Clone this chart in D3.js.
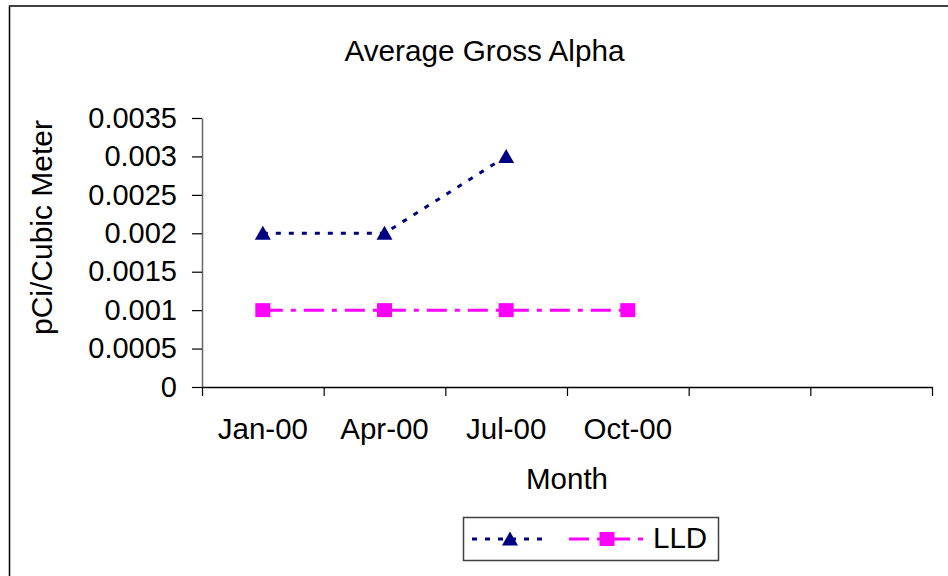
<!DOCTYPE html>
<html><head><meta charset="utf-8">
<script src="https://cdn.jsdelivr.net/npm/d3@7"></script>
<style>
html,body{margin:0;padding:0;background:#fff;}
svg{display:block;}
text{font-family:"Liberation Sans",Arial,sans-serif;fill:#000;}
</style></head>
<body>
<svg id="c" width="948" height="576"></svg>
<script>
// ---- data ----
const categories = ["Jan-00","Apr-00","Jul-00","Oct-00","",""];
const seriesAlpha = [0.002, 0.002, 0.003];          // unnamed series (navy triangles)
const seriesLLD = [0.001, 0.001, 0.001, 0.001];     // LLD (magenta squares)
const yTicks = [0,0.0005,0.001,0.0015,0.002,0.0025,0.003,0.0035];
const chartTitle = "Average Gross Alpha";
const yTitle = "pCi/Cubic Meter";
const xTitle = "Month";
const legendNames = ["", "LLD"];

const svg = d3.select("#c");
const FS = 29;

// chart border (extends beyond the frame right/bottom)
svg.append("rect").attr("x",9.5).attr("y",6).attr("width",960).attr("height",600)
  .attr("fill","none").attr("stroke","#000").attr("stroke-width",1.5);
svg.append("line").attr("x1",9).attr("x2",948).attr("y1",6).attr("y2",6)
  .attr("stroke","#404040").attr("stroke-width",2);

const plot = {l:202, r:932, t:118, b:387};
const x = d3.scaleBand().domain(d3.range(categories.length)).range([plot.l, plot.r]).padding(0);
const y = d3.scaleLinear().domain([0,0.0035]).range([plot.b, plot.t]);
const cx = i => x(i) + x.bandwidth()/2;

// y axis
const yAxis = d3.axisLeft(y).tickValues(yTicks).tickFormat(d => d===0 ? "0" : d3.format("")(+d.toFixed(4)))
  .tickSize(10).tickPadding(15).tickSizeOuter(0);
const gy = svg.append("g").attr("transform",`translate(${plot.l},0)`).call(yAxis);
gy.select(".domain").attr("stroke","#666").attr("stroke-width",1.5);
gy.selectAll(".tick line").attr("stroke","#000").attr("stroke-width",1.2);
gy.selectAll("text").attr("font-size",FS).attr("font-family","Liberation Sans, Arial, sans-serif").attr("fill","#000");

// x axis boundary ticks
const xb = d3.scaleLinear().domain([0,categories.length]).range([plot.l, plot.r]);
const gxb = svg.append("g").attr("transform",`translate(0,${plot.b})`)
  .call(d3.axisBottom(xb).ticks(categories.length).tickFormat("").tickSize(9).tickSizeOuter(0));
gxb.select(".domain").attr("stroke","#000").attr("stroke-width",1.5);
gxb.selectAll(".tick line").attr("stroke","#000").attr("stroke-width",1.2);
// x labels at category centres
const gx = svg.append("g").attr("transform",`translate(0,${plot.b})`)
  .call(d3.axisBottom(x).tickFormat(i => categories[i]).tickSize(0).tickPadding(31));
gx.select(".domain").remove();
gx.selectAll("text").attr("font-size",29.5).attr("font-family","Liberation Sans, Arial, sans-serif").attr("fill","#000");

// titles
svg.append("text").attr("x",484.5).attr("y",61).attr("text-anchor","middle").attr("font-size",29.7).text(chartTitle);
svg.append("text").attr("x",567).attr("y",489).attr("text-anchor","middle").attr("font-size",29.5).text(xTitle);
svg.append("text").attr("transform","translate(52,227.5) rotate(-90)").attr("text-anchor","middle").attr("font-size",30).text(yTitle);

// marker shapes
const tri = (px,py) => `M${px},${py-7.5}L${px+8},${py+6.5}L${px-8},${py+6.5}Z`;
const NAVY = "#000080", MAG = "#FF00FF";

// LLD series
const line = d3.line().x((d,i)=>cx(i)).y(d=>y(d));
svg.append("path").datum(seriesLLD).attr("d",line).attr("fill","none")
  .attr("stroke",MAG).attr("stroke-width",3).attr("stroke-dasharray","20,8,5,8");
svg.selectAll(".sq").data(seriesLLD).enter().append("rect")
  .attr("x",(d,i)=>cx(i)-7.5).attr("y",d=>y(d)-7).attr("width",15).attr("height",14).attr("fill",MAG);

// Alpha series
svg.append("path").datum(seriesAlpha).attr("d",line).attr("fill","none")
  .attr("stroke",NAVY).attr("stroke-width",3).attr("stroke-dasharray","5,8");
svg.selectAll(".tri").data(seriesAlpha).enter().append("path")
  .attr("d",(d,i)=>tri(cx(i),y(d))).attr("fill",NAVY);

// legend
const lg = svg.append("g");
lg.append("rect").attr("x",463.5).attr("y",517.5).attr("width",255).attr("height",43)
  .attr("fill","#fff").attr("stroke","#404040").attr("stroke-width",1.5);
lg.append("line").attr("x1",472).attr("x2",543).attr("y1",539).attr("y2",539)
  .attr("stroke",NAVY).attr("stroke-width",3).attr("stroke-dasharray","5,8");
lg.append("path").attr("d",tri(510,539)).attr("fill",NAVY);
lg.append("text").attr("x",548).attr("y",548).attr("font-size",FS).text(legendNames[0]);
lg.append("line").attr("x1",569).attr("x2",646).attr("y1",539).attr("y2",539)
  .attr("stroke",MAG).attr("stroke-width",3).attr("stroke-dasharray","20,8,5,8");
lg.append("rect").attr("x",599.5).attr("y",532).attr("width",15).attr("height",14).attr("fill",MAG);
lg.append("text").attr("x",653).attr("y",548).attr("font-size",29.5).text(legendNames[1]);
</script>
</body></html>
